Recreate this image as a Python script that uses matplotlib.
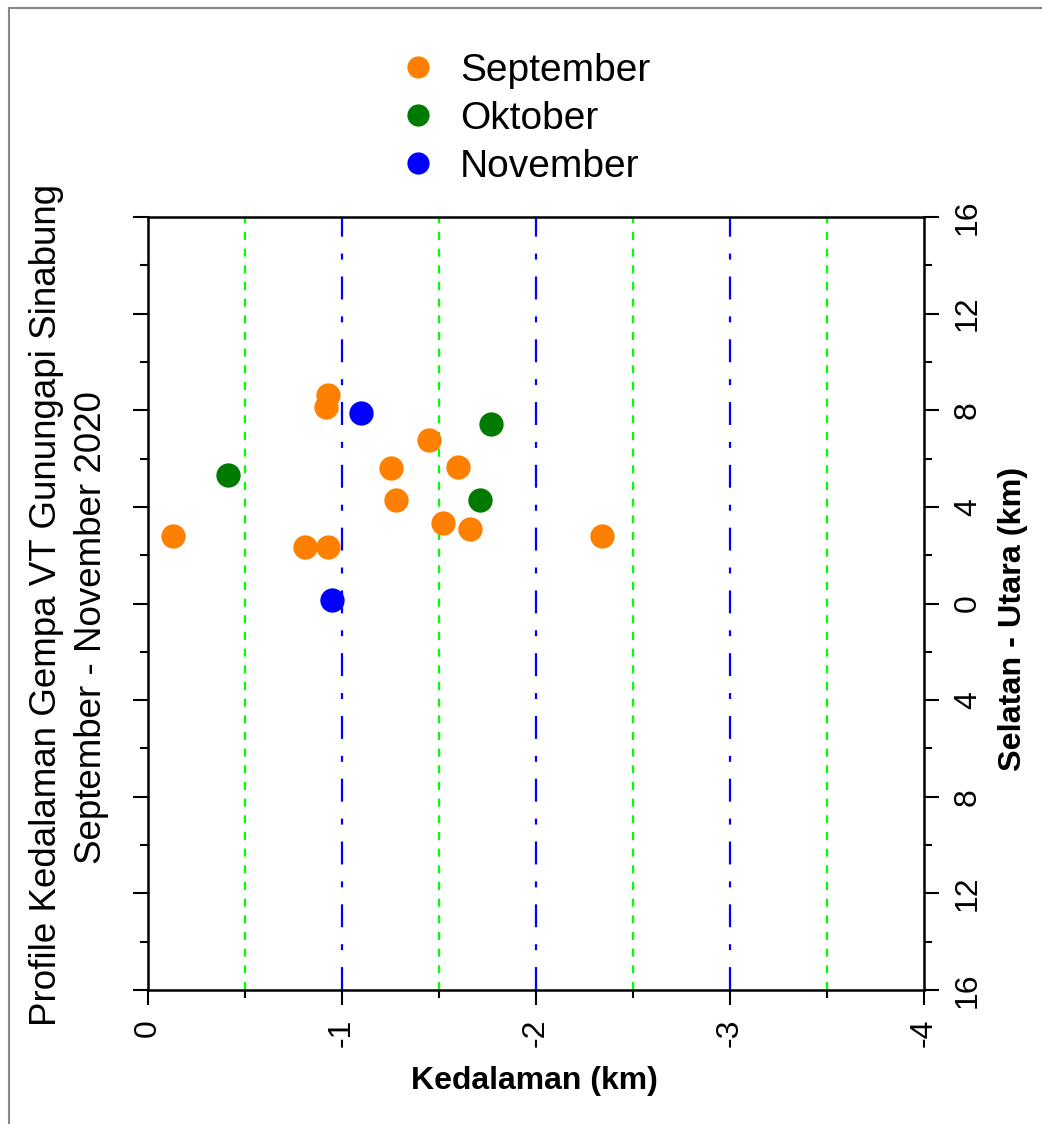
import matplotlib
matplotlib.use("Agg")
from matplotlib import pyplot as plt
from matplotlib.lines import Line2D
from matplotlib.ticker import MultipleLocator
import numpy as np

# depth (km, negative down) and south-north position (km)
SEP_DEPTH = [-0.13, -0.93, -0.92, -1.45, -1.25, -1.60, -1.28, -1.52, -1.66, -0.81, -0.93, -2.34]
SEP_SN = [2.8, 8.65, 8.15, 6.75, 5.6, 5.65, 4.3, 3.35, 3.1, 2.35, 2.35, 2.8]
OKT_DEPTH = [-0.41, -1.77, -1.71]
OKT_SN = [5.3, 7.45, 4.3]
NOV_DEPTH = [-1.10, -0.95]
NOV_SN = [7.9, 0.15]

MONTHS = ["September", "Oktober", "November"]
COLORS = ["#FF8000", "#007A00", "#0000FF"]

X_TICKS = [0, -1, -2, -3, -4]
X_TICK_LABELS = ["0", "-1", "-2", "-3", "-4"]
Y_TICKS = [16, 12, 8, 4, 0, -4, -8, -12, -16]
Y_TICK_LABELS = ["16", "12", "8", "4", "0", "4", "8", "12", "16"]

W, H = 1042, 1124


def main():
    plt.rcParams['font.family'] = ['Liberation Sans', 'DejaVu Sans']
    plt.rcParams['lines.scale_dashes'] = False

    fig = plt.figure(figsize=(W / 100, H / 100), dpi=100)
    ax = fig.add_axes([148 / W, 1 - 990 / H, 776 / W, 773 / H])

    # grid lines
    for x in [-0.5, -1.5, -2.5, -3.5]:
        ax.axvline(x, color="#00FF00", lw=1.6, linestyle=(0, (5.8, 6.2)), zorder=1)
    for x in [-1, -2, -3]:
        ax.axvline(x, color="#0000FF", lw=1.6, linestyle=(0, (16.5, 12.2, 4.3, 12.2)), zorder=1)

    data = [(SEP_DEPTH, SEP_SN), (OKT_DEPTH, OKT_SN), (NOV_DEPTH, NOV_SN)]
    for (xs, ys), c in zip(data, COLORS):
        ax.plot(xs, ys, 'o', color=c, markersize=17.5, markeredgewidth=0, zorder=3)

    ax.set_xlim(0, -4)
    ax.set_ylim(-16, 16)
    for s in ax.spines.values():
        s.set_linewidth(1.8)

    ax.set_xticks(X_TICKS)
    ax.set_xticklabels(X_TICK_LABELS, rotation=90, fontsize=23)
    ax.xaxis.set_minor_locator(MultipleLocator(0.5))
    ax.set_yticks(Y_TICKS)
    ax.set_yticklabels(Y_TICK_LABELS, rotation=90, fontsize=23, va='center')
    ax.yaxis.set_minor_locator(MultipleLocator(2))
    ax.tick_params(which='major', length=10.8, width=1.5, pad=10)
    ax.tick_params(which='minor', length=5.8, width=1.5)
    ax.tick_params(axis='y', which='both', left=True, right=True,
                   labelleft=False, labelright=True)

    handles = [Line2D([], [], marker='o', linestyle='none', color=c,
                      markersize=16, markeredgewidth=0) for c in COLORS]
    fig.legend(handles, MONTHS, loc='upper left',
               bbox_to_anchor=(398.6 / W, 1 - 53 / H), frameon=False,
               fontsize=28, handlelength=1.0, handletextpad=0.58,
               labelspacing=0.31, borderpad=0, borderaxespad=0)

    fig.text(534 / W, 1 - 1081 / H, "Kedalaman (km)", fontsize=23,
             fontweight='bold', ha='center', va='center')
    fig.text(1013 / W, 1 - 619 / H, "Selatan - Utara (km)", fontsize=23.3,
             fontweight='bold', rotation=90, ha='center', va='center')
    fig.text(47 / W, 1 - 605 / H, "Profile Kedalaman Gempa VT Gunungapi Sinabung",
             fontsize=26.5, rotation=90, ha='center', va='center')
    fig.text(92 / W, 1 - 628 / H, "September - November 2020",
             fontsize=26.5, rotation=90, ha='center', va='center')

    # screenshot border
    fig.add_artist(Line2D([9 / W, 9 / W], [0, 1 - 8 / H], color="#888888", lw=1.5))
    fig.add_artist(Line2D([9 / W, 1], [1 - 8 / H, 1 - 8 / H], color="#888888", lw=1.5))

    fig.savefig("out.png", dpi=100)


if __name__ == '__main__':
    main()
